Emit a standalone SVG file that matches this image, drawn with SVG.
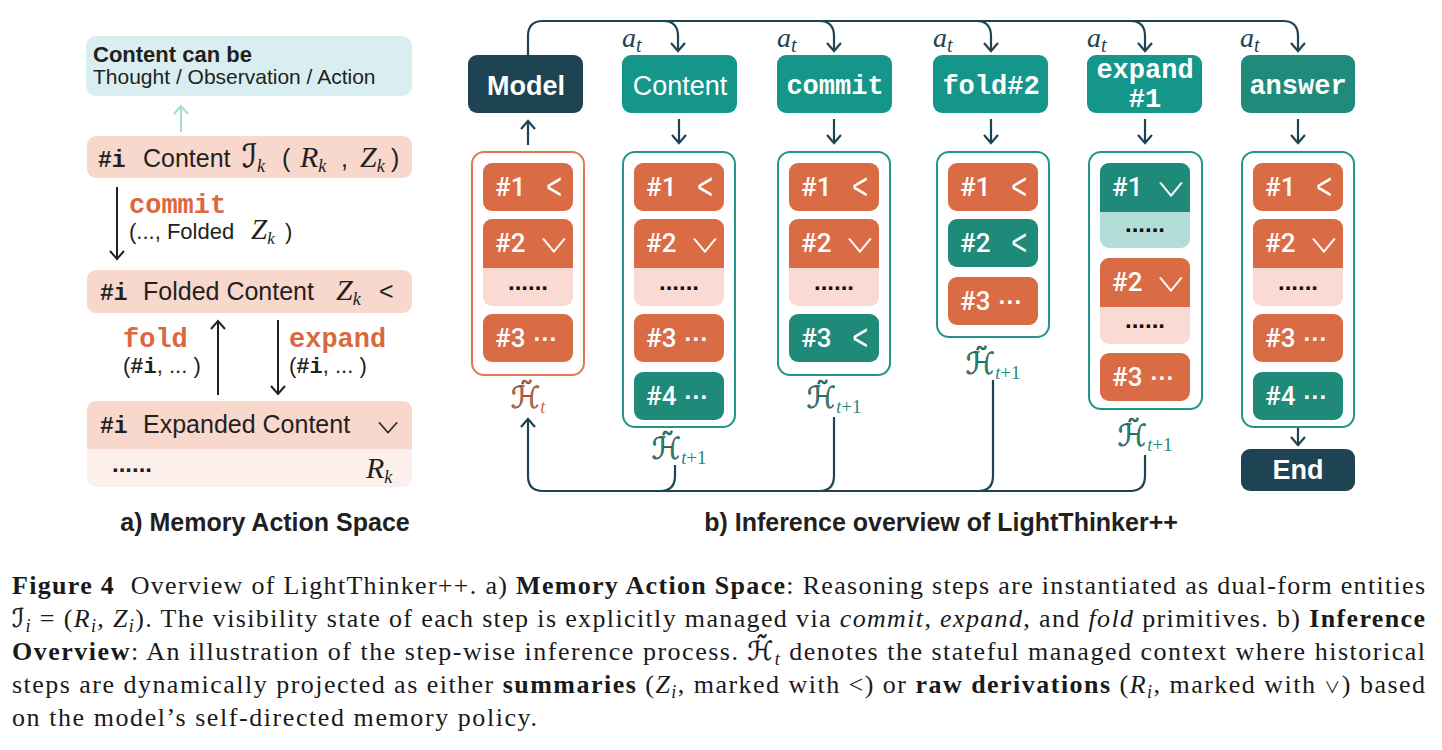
<svg xmlns="http://www.w3.org/2000/svg" width="1442" height="750" viewBox="0 0 1442 750">
<style>
.sans{font-family:"Liberation Sans",Arial,sans-serif}
.mono{font-family:"Liberation Mono","Courier New",monospace}
.mi{font-family:"Liberation Serif","Times New Roman",serif;font-style:italic}
.scr{font-family:"DejaVu Sans",sans-serif;stroke:currentColor;stroke-width:0.35}
.dk{fill:#231f20}
.ora{fill:#d9693f}
.or{fill:#d96b45}
.tl{fill:#1f8a7a}
.lp{fill:#fbdad3}
.lt{fill:#b3ddd7}
.it{font-family:Roboto,"Liberation Sans",sans-serif;font-size:26px;font-weight:500;fill:#fff}
.chv{font-family:"Liberation Sans",sans-serif;font-size:36px;fill:#fff;text-anchor:middle}
.vee{font-family:"Noto Sans CJK SC","DejaVu Sans",sans-serif;font-size:19px;font-weight:400;fill:#fff;text-anchor:middle}
.dts{font-family:"Liberation Sans",sans-serif;font-size:24px;font-weight:bold;fill:#111;text-anchor:middle}
.mid{font-family:"Liberation Sans",sans-serif;font-size:24px;font-weight:bold}
.col{fill:#fff;stroke-width:2}
.cn{fill:none;stroke:#1e4353;stroke-width:2.2}
.ak{fill:none;stroke:#231f20;stroke-width:2}
.box{fill:#14978a}
.nav{fill:#1e4353}
.bt{font-size:27px;fill:#fff;text-anchor:middle}
.lab{font-family:"DejaVu Sans",sans-serif;font-size:30px;text-anchor:middle}
.cap{font-family:"Liberation Serif","Times New Roman",serif;font-size:26px;fill:#1a1a1a}
.b{font-weight:bold}
.i{font-style:italic}
</style>
<defs>
<marker id="ahN" viewBox="-10 -10 20 20" markerWidth="20" markerHeight="20" refX="0" refY="0" orient="auto" markerUnits="userSpaceOnUse"><path d="M-8,-7 L0,0 L-8,7" fill="none" stroke="#1e4353" stroke-width="2.2"/></marker>
<marker id="ahK" viewBox="-10 -10 20 20" markerWidth="20" markerHeight="20" refX="0" refY="0" orient="auto" markerUnits="userSpaceOnUse"><path d="M-8,-7 L0,0 L-8,7" fill="none" stroke="#231f20" stroke-width="2"/></marker>
<marker id="ahL" viewBox="-10 -10 20 20" markerWidth="20" markerHeight="20" refX="0" refY="0" orient="auto" markerUnits="userSpaceOnUse"><path d="M-8,-7 L0,0 L-8,7" fill="none" stroke="#a6dcd6" stroke-width="2"/></marker>
<path id="topcap" d="M0,9 A9,9 0 0 1 9,0 H81 A9,9 0 0 1 90,9 V49 H0 Z"/>
</defs>
<rect width="1442" height="750" fill="#fff"/>

<!-- ===== Left panel ===== -->
<g id="content-types">
<rect x="86" y="36" width="326" height="60" rx="10" fill="#d8eef0"/>
<text class="sans dk" x="93" y="62" font-size="22" font-weight="bold">Content can be</text>
<text class="sans dk" x="93" y="84" font-size="21">Thought / Observation / Action</text>
</g>
<g id="content-node">
<rect x="87" y="136" width="325" height="42" rx="9" fill="#f8d7cd"/>
<text class="dk" y="167" font-size="25"><tspan class="mono" font-weight="bold" x="98" font-size="23">#i</tspan><tspan class="sans" x="143">Content</tspan><tspan x="242" class="scr" font-style="italic" font-size="32">ℐ</tspan><tspan class="mi" font-size="18" dy="5">k</tspan><tspan class="sans" x="282" dy="-5">(</tspan><tspan class="mi" x="300" font-size="30">R</tspan><tspan class="mi" font-size="18" dy="5">k</tspan><tspan class="sans" x="341" dy="-5">,</tspan><tspan class="mi" x="360" font-size="30">Z</tspan><tspan class="mi" font-size="18" dy="5">k</tspan><tspan class="sans" x="391" dy="-5">)</tspan></text>
</g>
<g id="folded-node">
<rect x="87" y="270" width="325" height="43" rx="9" fill="#f8d7cd"/>
<text class="dk" y="300" font-size="25"><tspan class="mono" font-weight="bold" x="100" font-size="23">#i</tspan><tspan class="sans" x="143">Folded Content</tspan><tspan class="mi" x="336" font-size="30">Z</tspan><tspan class="mi" font-size="18" dy="5">k</tspan><tspan class="sans" x="379" dy="-5">&lt;</tspan></text>
</g>
<g id="expanded-node">
<rect x="87" y="401" width="325" height="86" rx="9" fill="#fdf0ec"/>
<path d="M87,410 A9,9 0 0 1 96,401 H403 A9,9 0 0 1 412,410 V449 H87 Z" fill="#f8d7cd"/>
<text class="dk" y="433" font-size="25"><tspan class="mono" font-weight="bold" x="100" font-size="23">#i</tspan><tspan class="sans" x="143">Expanded Content</tspan></text>
<text class="dk" font-family="Noto Sans CJK SC, DejaVu Sans, sans-serif" font-size="15" text-anchor="middle" transform="translate(388,433) scale(1.7,1)">∨</text>
<text class="sans dk" x="112" y="472" font-size="24" font-weight="bold">......</text>
<text class="dk" y="478"><tspan class="mi" x="366" font-size="30">R</tspan><tspan class="mi" font-size="18" dy="5">k</tspan></text>
</g>
<g id="left-connectors">
<path d="M181,132 V106" fill="none" stroke="#a6dcd6" stroke-width="2" marker-end="url(#ahL)"/>
<path class="ak" d="M117,187 V259" marker-end="url(#ahK)"/>
<path class="ak" d="M218,395 V321" marker-end="url(#ahK)"/>
<path class="ak" d="M278,320 V394" marker-end="url(#ahK)"/>
</g>
<g id="left-labels">
<text class="mono ora" x="129" y="213" font-size="27" font-weight="bold">commit</text>
<text class="dk" y="239" font-size="22"><tspan class="sans" x="129">(..., Folded</tspan><tspan class="mi" x="251" font-size="29">Z</tspan><tspan class="mi" font-size="17" dy="5">k</tspan><tspan class="sans" x="285" dy="-5">)</tspan></text>
<text class="mono ora" x="123" y="347" font-size="27" font-weight="bold">fold</text>
<text class="dk" y="373" font-size="22"><tspan class="sans" x="123">(</tspan><tspan class="mono" font-weight="bold">#i</tspan><tspan class="sans">, ... )</tspan></text>
<text class="mono ora" x="289" y="347" font-size="27" font-weight="bold">expand</text>
<text class="dk" y="373" font-size="22"><tspan class="sans" x="289">(</tspan><tspan class="mono" font-weight="bold">#i</tspan><tspan class="sans">, ... )</tspan></text>
<text class="sans dk" x="265" y="531" font-size="25" font-weight="bold" text-anchor="middle">a) Memory Action Space</text>
</g>

<!-- ===== Right panel: action nodes ===== -->
<g id="model"><rect class="nav" x="468" y="55" width="115" height="58" rx="9"/><text class="sans bt" x="526" y="95" font-weight="bold">Model</text></g>
<g id="act-content"><rect class="box" x="622" y="55" width="115" height="58" rx="9"/><text class="sans bt" x="680" y="95">Content</text></g>
<g id="act-commit"><rect class="box" x="777" y="55" width="115" height="58" rx="9"/><text class="mono bt" x="835" y="94" font-weight="bold">commit</text></g>
<g id="act-fold"><rect class="box" x="933" y="55" width="115" height="58" rx="9"/><text class="mono bt" x="991" y="94" font-weight="bold">fold#2</text></g>
<g id="act-expand"><rect class="box" x="1087" y="55" width="115" height="58" rx="9"/><text class="mono bt" x="1145" y="78" font-size="26" font-weight="bold">expand</text><text class="mono bt" x="1145" y="107" font-size="26" font-weight="bold">#1</text></g>
<g id="act-answer"><rect x="1241" y="55" width="114" height="58" rx="9" fill="#218b7b"/><text class="mono bt" x="1298" y="94" font-weight="bold">answer</text></g>
<g id="end"><rect class="nav" x="1241" y="449" width="114" height="42" rx="9"/><text class="sans bt" x="1298" y="479" font-weight="bold">End</text></g>

<g id="at-labels" fill="#1e4353">
<text x="622" y="47"><tspan class="mi" font-size="28">a</tspan><tspan class="mi" font-size="20" dy="5">t</tspan></text>
<text x="777" y="47"><tspan class="mi" font-size="28">a</tspan><tspan class="mi" font-size="20" dy="5">t</tspan></text>
<text x="933" y="47"><tspan class="mi" font-size="28">a</tspan><tspan class="mi" font-size="20" dy="5">t</tspan></text>
<text x="1087" y="47"><tspan class="mi" font-size="28">a</tspan><tspan class="mi" font-size="20" dy="5">t</tspan></text>
<text x="1240" y="47"><tspan class="mi" font-size="28">a</tspan><tspan class="mi" font-size="20" dy="5">t</tspan></text>
</g>

<!-- ===== Context columns ===== -->
<g id="ctx-1">
<rect class="col" x="472" y="152" width="112" height="223" rx="12" stroke="#e07a52"/>
<g transform="translate(483,163)"><rect class="or" width="90" height="48" rx="9"/><text class="it" x="12" y="33">#1</text><text class="chv" transform="translate(71,36) scale(0.75,1.05)">&lt;</text></g>
<g transform="translate(483,219)"><rect class="lp" width="90" height="87" rx="9"/><use href="#topcap" class="or"/><text class="it" x="12" y="33">#2</text><text class="vee" transform="translate(71,34) scale(1.6,1)">∨</text><text class="dts" x="45" y="71">......</text></g>
<g transform="translate(483,314)"><rect class="or" width="90" height="48" rx="9"/><text class="it" x="12" y="33">#3<tspan class="mid" dx="8">···</tspan></text></g>
<text class="lab" x="528" y="408" fill="#d9693f"><tspan class="scr">ℋ̃</tspan><tspan class="mi" font-size="18" dy="5">t</tspan></text>
</g>

<g id="ctx-2">
<rect class="col" x="623" y="152" width="112" height="275" rx="12" stroke="#23968a"/>
<g transform="translate(634,163)"><rect class="or" width="90" height="48" rx="9"/><text class="it" x="12" y="33">#1</text><text class="chv" transform="translate(71,36) scale(0.75,1.05)">&lt;</text></g>
<g transform="translate(634,219)"><rect class="lp" width="90" height="87" rx="9"/><use href="#topcap" class="or"/><text class="it" x="12" y="33">#2</text><text class="vee" transform="translate(71,34) scale(1.6,1)">∨</text><text class="dts" x="45" y="71">......</text></g>
<g transform="translate(634,314)"><rect class="or" width="90" height="48" rx="9"/><text class="it" x="12" y="33">#3<tspan class="mid" dx="8">···</tspan></text></g>
<g transform="translate(634,372)"><rect class="tl" width="90" height="48" rx="9"/><text class="it" x="12" y="33">#4<tspan class="mid" dx="8">···</tspan></text></g>
<text class="lab" x="679" y="459" fill="#1f8a7a"><tspan class="scr">ℋ̃</tspan><tspan class="mi" font-size="18" dy="5">t</tspan><tspan font-family="Liberation Serif" font-size="19">+1</tspan></text>
</g>

<g id="ctx-3">
<rect class="col" x="778" y="152" width="112" height="223" rx="12" stroke="#23968a"/>
<g transform="translate(789,163)"><rect class="or" width="90" height="48" rx="9"/><text class="it" x="12" y="33">#1</text><text class="chv" transform="translate(71,36) scale(0.75,1.05)">&lt;</text></g>
<g transform="translate(789,219)"><rect class="lp" width="90" height="87" rx="9"/><use href="#topcap" class="or"/><text class="it" x="12" y="33">#2</text><text class="vee" transform="translate(71,34) scale(1.6,1)">∨</text><text class="dts" x="45" y="71">......</text></g>
<g transform="translate(789,314)"><rect class="tl" width="90" height="48" rx="9"/><text class="it" x="12" y="33">#3</text><text class="chv" transform="translate(71,36) scale(0.75,1.05)">&lt;</text></g>
<text class="lab" x="834" y="408" fill="#1f8a7a"><tspan class="scr">ℋ̃</tspan><tspan class="mi" font-size="18" dy="5">t</tspan><tspan font-family="Liberation Serif" font-size="19">+1</tspan></text>
</g>

<g id="ctx-4">
<rect class="col" x="937" y="152" width="112" height="185" rx="12" stroke="#23968a"/>
<g transform="translate(948,163)"><rect class="or" width="90" height="48" rx="9"/><text class="it" x="12" y="33">#1</text><text class="chv" transform="translate(71,36) scale(0.75,1.05)">&lt;</text></g>
<g transform="translate(948,219)"><rect class="tl" width="90" height="48" rx="9"/><text class="it" x="12" y="33">#2</text><text class="chv" transform="translate(71,36) scale(0.75,1.05)">&lt;</text></g>
<g transform="translate(948,277)"><rect class="or" width="90" height="48" rx="9"/><text class="it" x="12" y="33">#3<tspan class="mid" dx="8">···</tspan></text></g>
<text class="lab" x="993" y="374" fill="#1f8a7a"><tspan class="scr">ℋ̃</tspan><tspan class="mi" font-size="18" dy="5">t</tspan><tspan font-family="Liberation Serif" font-size="19">+1</tspan></text>
</g>

<g id="ctx-5">
<rect class="col" x="1089" y="152" width="113" height="257" rx="12" stroke="#23968a"/>
<g transform="translate(1100,163)"><rect class="lt" width="90" height="85" rx="9"/><use href="#topcap" class="tl"/><text class="it" x="12" y="33">#1</text><text class="vee" transform="translate(71,34) scale(1.6,1)">∨</text><text class="dts" x="45" y="69">......</text></g>
<g transform="translate(1100,258)"><rect class="lp" width="90" height="86" rx="9"/><use href="#topcap" class="or"/><text class="it" x="12" y="33">#2</text><text class="vee" transform="translate(71,34) scale(1.6,1)">∨</text><text class="dts" x="45" y="70">......</text></g>
<g transform="translate(1100,353)"><rect class="or" width="90" height="48" rx="9"/><text class="it" x="12" y="33">#3<tspan class="mid" dx="8">···</tspan></text></g>
<text class="lab" x="1145" y="446" fill="#1f8a7a"><tspan class="scr">ℋ̃</tspan><tspan class="mi" font-size="18" dy="5">t</tspan><tspan font-family="Liberation Serif" font-size="19">+1</tspan></text>
</g>

<g id="ctx-6">
<rect class="col" x="1242" y="152" width="112" height="275" rx="12" stroke="#23968a"/>
<g transform="translate(1253,163)"><rect class="or" width="90" height="48" rx="9"/><text class="it" x="12" y="33">#1</text><text class="chv" transform="translate(71,36) scale(0.75,1.05)">&lt;</text></g>
<g transform="translate(1253,219)"><rect class="lp" width="90" height="87" rx="9"/><use href="#topcap" class="or"/><text class="it" x="12" y="33">#2</text><text class="vee" transform="translate(71,34) scale(1.6,1)">∨</text><text class="dts" x="45" y="71">......</text></g>
<g transform="translate(1253,314)"><rect class="or" width="90" height="48" rx="9"/><text class="it" x="12" y="33">#3<tspan class="mid" dx="8">···</tspan></text></g>
<g transform="translate(1253,372)"><rect class="tl" width="90" height="48" rx="9"/><text class="it" x="12" y="33">#4<tspan class="mid" dx="8">···</tspan></text></g>
</g>

<!-- ===== Connectors ===== -->
<g id="connectors">
<path class="cn" d="M528,55 V36 Q528,21 543,21 H1283 Q1298,21 1298,36 V51" marker-end="url(#ahN)"/>
<path class="cn" d="M663,21 Q678,21 678,36 V51" marker-end="url(#ahN)"/>
<path class="cn" d="M819,21 Q834,21 834,36 V51" marker-end="url(#ahN)"/>
<path class="cn" d="M976,21 Q991,21 991,36 V51" marker-end="url(#ahN)"/>
<path class="cn" d="M1130,21 Q1145,21 1145,36 V51" marker-end="url(#ahN)"/>
<path class="cn" d="M528,145 V121" marker-end="url(#ahN)"/>
<path class="cn" d="M679,119 V143" marker-end="url(#ahN)"/>
<path class="cn" d="M834,119 V143" marker-end="url(#ahN)"/>
<path class="cn" d="M991,119 V143" marker-end="url(#ahN)"/>
<path class="cn" d="M1145,119 V143" marker-end="url(#ahN)"/>
<path class="cn" d="M1298,119 V143" marker-end="url(#ahN)"/>
<path class="cn" d="M1298,428 V445" marker-end="url(#ahN)"/>
<path class="cn" d="M1145,455 V476 Q1145,491 1130,491 H543 Q528,491 528,476 V419" marker-end="url(#ahN)"/>
<path class="cn" d="M675,465 V476 Q675,491 660,491"/>
<path class="cn" d="M834,417 V476 Q834,491 819,491"/>
<path class="cn" d="M993,380 V476 Q993,491 978,491"/>
</g>
<text class="sans dk" x="941" y="531" font-size="25" font-weight="bold" text-anchor="middle">b) Inference overview of LightThinker++</text>

<!-- ===== Caption ===== -->
<g id="caption">
<text class="cap" x="12" y="594" textLength="1413" lengthAdjust="spacing"><tspan class="b">Figure 4</tspan>&#160; Overview of LightThinker++. a) <tspan class="b">Memory Action Space</tspan>: Reasoning steps are instantiated as dual-form entities</text>
<text class="cap" x="12" y="627" textLength="1413" lengthAdjust="spacing"><tspan class="scr i" font-size="26">ℐ</tspan><tspan class="i" font-size="18" dy="5">i</tspan><tspan dy="-5"> = (</tspan><tspan class="i">R</tspan><tspan class="i" font-size="18" dy="5">i</tspan><tspan dy="-5">, </tspan><tspan class="i">Z</tspan><tspan class="i" font-size="18" dy="5">i</tspan><tspan dy="-5">). The visibility state of each step is explicitly managed via </tspan><tspan class="i">commit</tspan>, <tspan class="i">expand</tspan>, and <tspan class="i">fold</tspan> primitives. b) <tspan class="b">Inference</tspan></text>
<text class="cap" x="12" y="660" textLength="1413" lengthAdjust="spacing"><tspan class="b">Overview</tspan>: An illustration of the step-wise inference process. <tspan class="scr i" font-size="26">ℋ̃</tspan><tspan class="i" font-size="18" dy="5">t</tspan><tspan dy="-5"> denotes the stateful managed context where historical</tspan></text>
<text class="cap" x="12" y="693" textLength="1413" lengthAdjust="spacing">steps are dynamically projected as either <tspan class="b">summaries</tspan> (<tspan class="i">Z</tspan><tspan class="i" font-size="18" dy="5">i</tspan><tspan dy="-5">, marked with &lt;) or </tspan><tspan class="b">raw derivations</tspan> (<tspan class="i">R</tspan><tspan class="i" font-size="18" dy="5">i</tspan><tspan dy="-5">, marked with </tspan><tspan font-family="Noto Sans CJK SC, DejaVu Sans, sans-serif" font-size="16">∨</tspan>) based</text>
<text class="cap" x="12" y="726" textLength="525" lengthAdjust="spacing">on the model’s self-directed memory policy.</text>
</g>
</svg>
